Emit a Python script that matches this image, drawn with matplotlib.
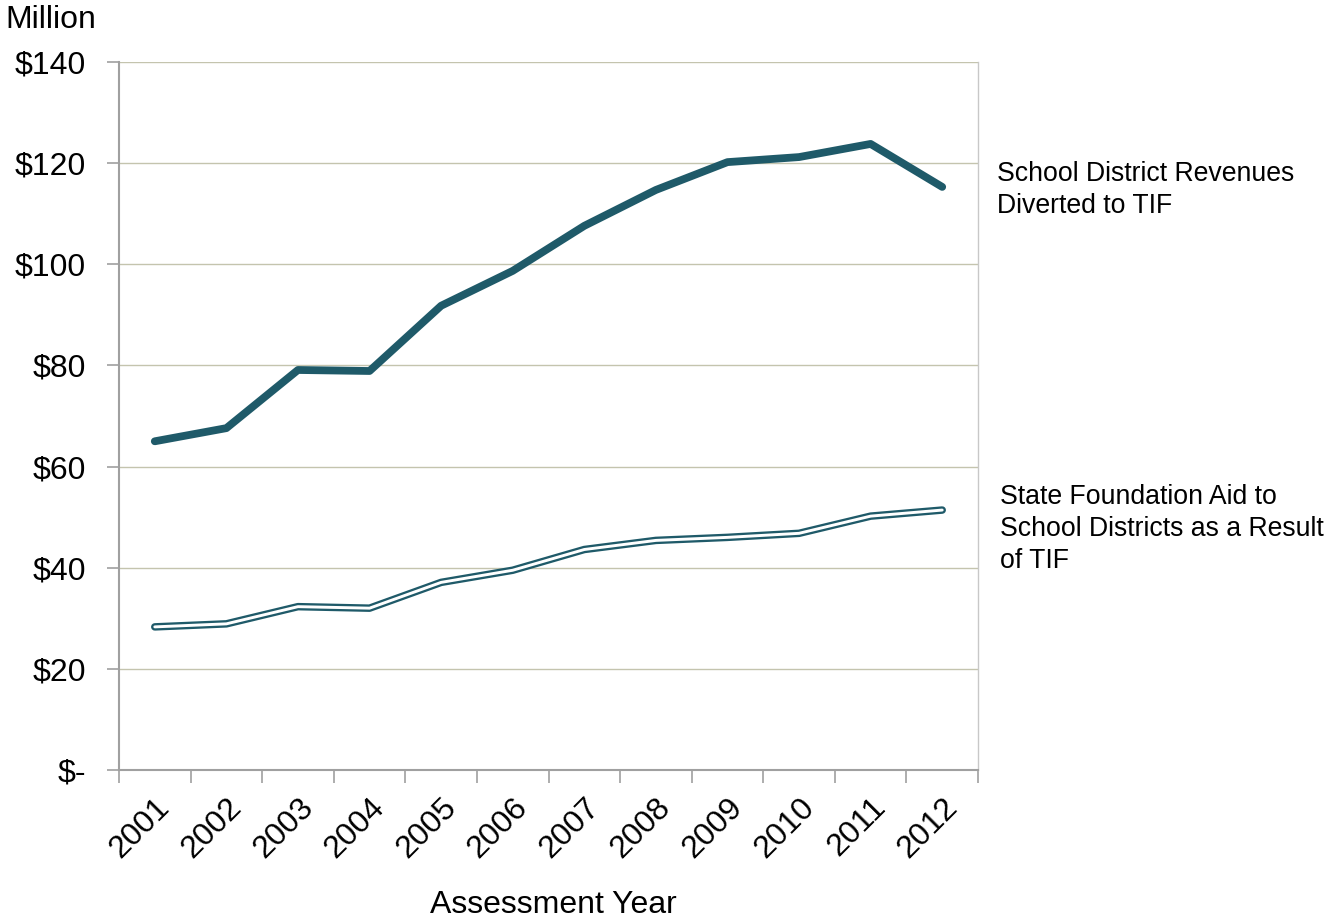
import matplotlib
matplotlib.use("Agg")
import matplotlib.pyplot as plt
import numpy as np

plt.rcParams['font.family'] = ['Liberation Sans', 'DejaVu Sans']

years = ['2001', '2002', '2003', '2004', '2005', '2006',
         '2007', '2008', '2009', '2010', '2011', '2012']
diverted = [65.0, 67.6, 79.1, 78.9, 91.8, 98.7, 107.6, 114.7, 120.2, 121.2, 123.8, 115.3]
state_aid = [28.3, 28.9, 32.3, 32.0, 37.1, 39.5, 43.6, 45.4, 46.0, 46.8, 50.2, 51.4]
y_ticks = [0, 20, 40, 60, 80, 100, 120, 140]
y_labels = ['$-', '$20', '$40', '$60', '$80', '$100', '$120', '$140']

teal = '#1f5a69'
grid_col = '#c4c4ae'
axis_col = '#a0a0a0'

fig = plt.figure(figsize=(13.25, 9.21), dpi=100)
ax = fig.add_axes([119/1325, 1-770/921, (978-119)/1325, (770-62)/921])

x = np.arange(len(years))

ax.plot(x, diverted, color=teal, lw=5.6, solid_capstyle='round',
        solid_joinstyle='round', zorder=4)
ax.plot(x, state_aid, color=teal, lw=5.4, solid_capstyle='round',
        solid_joinstyle='round', zorder=4)
ax.plot(x, state_aid, color='white', lw=2.1, solid_capstyle='round',
        solid_joinstyle='round', zorder=5)

ax.set_xlim(-0.5, len(years) - 0.5)
ax.set_ylim(0, 140)

ax.set_yticks(y_ticks)
ax.set_yticklabels(y_labels, fontsize=23, va='top')
for lbl in ax.get_yticklabels():
    lbl.set_verticalalignment('center_baseline')
for v in y_ticks[1:]:
    ax.axhline(v, color=grid_col, lw=1.0, zorder=1)

ax.set_xticks(x)
ax.set_xticklabels(years, fontsize=23, rotation=45, ha='right',
                   rotation_mode='anchor')
ax.set_xticks(np.arange(-0.5, len(years)), minor=True)
ax.tick_params(axis='x', which='major', length=0, pad=16)
ax.tick_params(axis='x', which='minor', length=9, width=1.2, color=axis_col,
               direction='out')
ax.tick_params(axis='y', length=9, width=1.2, color=axis_col, direction='out',
               pad=15)

ax.spines['top'].set_visible(False)
ax.spines['right'].set_color('#c8c8c8')
ax.spines['right'].set_linewidth(1.0)
ax.spines['left'].set_color(axis_col)
ax.spines['left'].set_linewidth(1.5)
ax.spines['bottom'].set_color(axis_col)
ax.spines['bottom'].set_linewidth(1.5)

fig.text(5/1325, 1-20/921, 'Million', fontsize=23, ha='left', va='center')
fig.text(553/1325, 1-905/921, 'Assessment Year', fontsize=23, ha='center',
         va='center')

fig.text(997/1325, 1-161/921, 'School District Revenues\nDiverted to TIF',
         fontsize=19.2, ha='left', va='top', linespacing=1.3)
fig.text(1000/1325, 1-484/921,
         'State Foundation Aid to\nSchool Districts as a Result\nof TIF',
         fontsize=19.2, ha='left', va='top', linespacing=1.3)

fig.savefig('out.png', dpi=100, facecolor='white')
